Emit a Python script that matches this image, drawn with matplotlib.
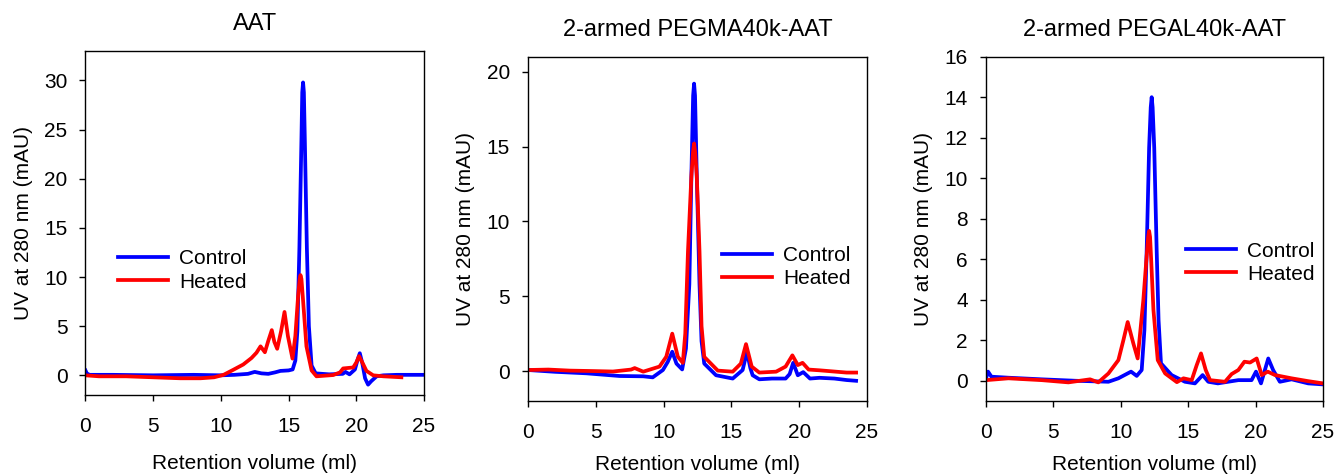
import numpy as np
import matplotlib
matplotlib.use('Agg')
import matplotlib.pyplot as plt

plt.rcParams['font.family'] = ['Liberation Sans', 'DejaVu Sans']

titles = ['AAT', '2-armed PEGMA40k-AAT', '2-armed PEGAL40k-AAT']
series_names = ['Control', 'Heated']

# AAT
aat_ctrl_x = [0, 0.1, 0.3, 2, 5, 8, 10, 11, 12, 12.5, 13, 13.5, 14, 14.4, 15, 15.3, 15.5, 15.65,
              15.8, 15.95, 16.01, 16.07, 16.13, 16.2, 16.35, 16.5, 16.7, 17.0, 18, 19, 19.2,
              19.5, 19.9, 20.1, 20.26, 20.45, 20.65, 20.87, 21.1, 21.5, 22, 23, 24, 25]
aat_ctrl_y = [0.5, 0.2, 0.05, 0.05, 0.0, 0.05, 0.0, 0.05, 0.15, 0.35, 0.2, 0.15, 0.3, 0.45, 0.5,
              0.6, 1.5, 4.5, 13, 24, 28.8, 29.8, 28.8, 24, 13, 5, 1.0, 0.2, 0.1, 0.15, 0.35,
              0.1, 0.6, 1.6, 2.25, 1.2, -0.3, -0.95, -0.6, -0.1, 0.0, 0.05, 0.05, 0.05]
aat_heat_x = [0, 1, 3, 5, 7, 8.5, 9.5, 10.2, 10.9, 11.65, 12.26, 12.63, 12.93, 13.25, 13.5, 13.76,
              13.95, 14.16, 14.45, 14.7, 14.95, 15.29, 15.5, 15.7, 15.82, 15.88, 15.95, 16.05,
              16.32, 16.7, 17.06, 18.3, 18.8, 19.03, 19.77, 20.0, 20.2, 20.45, 20.75, 21.25, 22,
              23.33]
aat_heat_y = [0.0, -0.1, -0.1, -0.2, -0.3, -0.3, -0.2, 0.05, 0.55, 1.1, 1.76, 2.3, 2.95, 2.35,
              3.5, 4.6, 3.4, 2.7, 4.5, 6.45, 4.0, 1.7, 4.0, 8.0, 9.8, 10.2, 9.8, 8.0, 2.95, 0.5,
              -0.1, 0.03, 0.3, 0.7, 0.8, 1.3, 1.95, 1.3, 0.45, 0.0, -0.1, -0.2]

# 2-armed PEGMA40k-AAT
pegma_ctrl_x = [0, 2, 4.3, 6.76, 8.5, 9.2, 9.95, 10.3, 10.64, 10.95, 11.37, 11.65, 11.9, 12.05,
                12.18, 12.25, 12.32, 12.45, 12.65, 12.8, 13.0, 13.87, 15.1, 15.83, 16.15, 16.4,
                16.57, 17.06, 18, 19.0, 19.3, 19.56, 19.9, 20.3, 20.8, 21.5, 22.6, 23.5, 24.2]
pegma_ctrl_y = [0.07, -0.05, -0.15, -0.33, -0.35, -0.42, 0.07, 0.6, 1.29, 0.5, 0.11, 1.5, 5.8,
                13, 18.4, 19.2, 18.4, 13, 5.8, 2.0, 0.5, -0.28, -0.5, 0.07, 1.29, 0.2, -0.28,
                -0.55, -0.5, -0.5, -0.2, 0.55, -0.28, -0.07, -0.5, -0.45, -0.5, -0.6, -0.65]
pegma_heat_x = [0, 1.5, 3.09, 4.8, 6.27, 7.6, 7.87, 8.5, 9.7, 10.2, 10.64, 11.05, 11.42, 11.6,
                11.8, 12.05, 12.17, 12.25, 12.33, 12.45, 12.65, 12.8, 13.0, 14.0, 15.1, 15.7,
                16.08, 16.5, 17.06, 18.3, 19.0, 19.5, 19.9, 20.25, 20.7, 21.5, 22.7, 23.5, 24.2]
pegma_heat_y = [0.07, 0.1, 0.03, 0.0, -0.03, 0.1, 0.2, -0.04, 0.3, 0.96, 2.5, 0.96, 0.55, 2.5,
                8.0, 13, 14.6, 15.2, 14.6, 13, 8.0, 3.0, 0.95, 0.03, -0.04, 0.5, 1.8, 0.3, -0.1,
                -0.04, 0.3, 1.05, 0.4, 0.55, 0.1, 0.05, -0.04, -0.1, -0.1]

# 2-armed PEGAL40k-AAT
pegal_ctrl_x = [0, 0.15, 0.4, 1.66, 4.13, 6.6, 9.08, 9.82, 10.76, 11.18, 11.55, 11.75, 11.92,
                12.1, 12.22, 12.29, 12.36, 12.48, 12.66, 12.8, 12.98, 13.77, 14.76, 15.5, 16.07,
                16.49, 17.2, 18.72, 19.7, 20.03, 20.4, 20.94, 21.3, 21.8, 22.67, 23.9, 25]
pegal_ctrl_y = [0.12, 0.45, 0.2, 0.15, 0.07, 0.0, -0.05, 0.12, 0.45, 0.24, 0.53, 2.5, 6.45,
                11.5, 13.5, 14.0, 13.5, 11.5, 6.45, 3.0, 0.86, 0.28, -0.05, -0.13, 0.28, -0.05,
                -0.13, 0.03, 0.03, 0.45, -0.13, 1.1, 0.53, -0.05, 0.07, -0.13, -0.18]
pegal_heat_x = [0, 1.66, 4.13, 6.11, 7.72, 8.33, 9.08, 9.82, 10.19, 10.51, 10.93, 11.25, 11.67,
                11.9, 12.03, 12.1, 12.17, 12.25, 12.42, 12.74, 13.29, 14.16, 14.65, 15.26, 15.63,
                15.95, 16.3, 16.62, 17.73, 18.22, 18.72, 19.17, 19.59, 20.08, 20.45, 20.9, 21.44,
                22.67, 23.9, 25]
pegal_heat_y = [0.03, 0.12, 0.03, -0.08, 0.07, -0.08, 0.36, 1.02, 2.0, 2.9, 1.84, 1.1, 3.97,
                6.0, 7.1, 7.4, 7.1, 6.0, 3.5, 1.02, 0.36, -0.07, 0.12, 0.03, 0.77, 1.35, 0.53,
                0.03, -0.05, 0.33, 0.53, 0.94, 0.9, 1.1, 0.28, 0.45, 0.28, 0.12, -0.02, -0.13]

ctrl = [(aat_ctrl_x, aat_ctrl_y), (pegma_ctrl_x, pegma_ctrl_y), (pegal_ctrl_x, pegal_ctrl_y)]
heat = [(aat_heat_x, aat_heat_y), (pegma_heat_x, pegma_heat_y), (pegal_heat_x, pegal_heat_y)]

ylims = [(-2, 33), (-2, 21), (-1, 16)]
yticks = [np.arange(0, 31, 5), np.arange(0, 21, 5), np.arange(0, 17, 2)]

# axes boxes in figure fraction
boxes = [[0.0640, 0.1667, 0.2536, 0.7257],
         [0.3955, 0.1540, 0.2539, 0.7264],
         [0.7386, 0.1540, 0.2524, 0.7264]]
legpos = [(0.095, 0.362), (0.572, 0.389), (0.593, 0.402)]
xlabpad = [13, 9, 9]

fig = plt.figure(figsize=(13.35, 4.74), dpi=100)

for i in range(3):
    ax = fig.add_axes(boxes[i])
    ax.plot(ctrl[i][0], ctrl[i][1], '-', color='#0000ff', lw=2.7, label=series_names[0],
            solid_joinstyle='round')
    ax.plot(heat[i][0], heat[i][1], '-', color='#ff0000', lw=2.7, label=series_names[1],
            solid_joinstyle='round')
    ax.set_xlim(0, 25)
    ax.set_ylim(*ylims[i])
    ax.set_xticks([0, 5, 10, 15, 20, 25])
    ax.set_yticks(yticks[i])
    ax.tick_params(direction='out', length=4, width=1, labelsize=15)
    ax.tick_params(axis='x', pad=12)
    ax.tick_params(axis='y', pad=9)
    for s in ax.spines.values():
        s.set_linewidth(1.0)
    ax.set_title(titles[i], fontsize=17, pad=15)
    ax.set_xlabel('Retention volume (ml)', fontsize=15, labelpad=xlabpad[i])
    ax.set_ylabel('UV at 280 nm (mAU)', fontsize=15, labelpad=8)
    ax.legend(loc='center left', bbox_to_anchor=legpos[i], frameon=False, fontsize=15,
              borderpad=0, borderaxespad=0, handlelength=2.4, handletextpad=0.55,
              labelspacing=0.2)

fig.savefig('out.png', dpi=100)
